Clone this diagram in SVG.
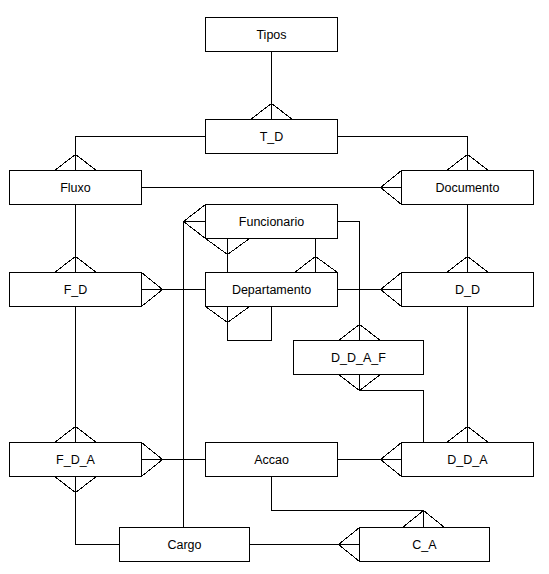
<svg xmlns="http://www.w3.org/2000/svg" width="549" height="574" viewBox="0 0 549 574">
<style>
  .box { fill: #ffffff; stroke: #000000; stroke-width: 1; shape-rendering: crispEdges; }
  .lbl { font-family: "Liberation Sans", Arial, sans-serif; font-size: 12.5px; fill: #000000; text-anchor: middle; }
  .conn path { fill: none; stroke: #000000; stroke-width: 1; shape-rendering: crispEdges; }
</style>
<rect x="0" y="0" width="549" height="574" fill="#ffffff"/>
<g id="connectors" class="conn">
  <path d="M271.5 51.5 V119.5 M250.5 119.5 L271.5 103.5 L292.5 119.5"/>
  <path d="M205.5 136.5 H75.5 V170.5 M54.5 170.5 L75.5 154.5 L96.5 170.5"/>
  <path d="M337.5 136.5 H467.5 V170.5 M446.5 170.5 L467.5 154.5 L488.5 170.5"/>
  <path d="M141.5 187.5 H401.5 M401.5 170.5 L380.5 187.5 L401.5 204.5"/>
  <path d="M75.5 204.5 V272.5 M54.5 272.5 L75.5 256.5 L96.5 272.5"/>
  <path d="M467.5 204.5 V272.5 M446.5 272.5 L467.5 256.5 L488.5 272.5"/>
  <path d="M141.5 289.5 H205.5 M141.5 272.5 L162.5 289.5 L141.5 306.5"/>
  <path d="M337.5 289.5 H401.5 M401.5 272.5 L380.5 289.5 L401.5 306.5"/>
  <path d="M227.5 238.5 V272.5 M205.5 238.5 L227.5 254.5 L249.5 238.5"/>
  <path d="M315.5 238.5 V272.5 M294.5 272.5 L315.5 256.5 L337.5 272.5"/>
  <path d="M227.5 306.5 V340.5 H271.5 V306.5 M205.5 306.5 L227.5 322.5 L249.5 306.5"/>
  <path d="M337.5 221.5 H359.5 V340.5 M338.5 340.5 L359.5 324.5 L380.5 340.5"/>
  <path d="M359.5 374.5 V390.5 H423.5 V442.5 M338.5 374.5 L359.5 390.5 L380.5 374.5"/>
  <path d="M205.5 221.5 H183.5 V527.5 M205.5 204.5 L183.5 221.5 L205.5 238.5"/>
  <path d="M467.5 306.5 V442.5 M446.5 442.5 L467.5 426.5 L488.5 442.5"/>
  <path d="M75.5 306.5 V442.5 M54.5 442.5 L75.5 426.5 L96.5 442.5"/>
  <path d="M141.5 459.5 H205.5 M141.5 442.5 L162.5 459.5 L141.5 476.5"/>
  <path d="M337.5 459.5 H401.5 M401.5 442.5 L380.5 459.5 L401.5 476.5"/>
  <path d="M75.5 476.5 V544.5 H119.5 M54.5 476.5 L75.5 492.5 L96.5 476.5"/>
  <path d="M249.5 544.5 H359.5 M359.5 527.5 L338.5 544.5 L359.5 561.5"/>
  <path d="M271.5 476.5 V510.5 H423.5 V527.5 M402.5 527.5 L423.5 510.5 L444.5 527.5"/>
</g>
<g id="node-tipos"><rect class="box" x="205.5" y="17.5" width="132" height="34"/><text class="lbl" x="271.5" y="39">Tipos</text></g>
<g id="node-t_d"><rect class="box" x="205.5" y="119.5" width="132" height="34"/><text class="lbl" x="271.5" y="141">T_D</text></g>
<g id="node-fluxo"><rect class="box" x="9.5" y="170.5" width="132" height="34"/><text class="lbl" x="75.5" y="192">Fluxo</text></g>
<g id="node-documento"><rect class="box" x="401.5" y="170.5" width="132" height="34"/><text class="lbl" x="467.5" y="192">Documento</text></g>
<g id="node-funcionario"><rect class="box" x="205.5" y="204.5" width="132" height="34"/><text class="lbl" x="271.5" y="226">Funcionario</text></g>
<g id="node-f_d"><rect class="box" x="9.5" y="272.5" width="132" height="34"/><text class="lbl" x="75.5" y="294">F_D</text></g>
<g id="node-departamento"><rect class="box" x="205.5" y="272.5" width="132" height="34"/><text class="lbl" x="271.5" y="294">Departamento</text></g>
<g id="node-d_d"><rect class="box" x="401.5" y="272.5" width="132" height="34"/><text class="lbl" x="467.5" y="294">D_D</text></g>
<g id="node-d_d_a_f"><rect class="box" x="293.5" y="340.5" width="130" height="34"/><text class="lbl" x="358.5" y="362">D_D_A_F</text></g>
<g id="node-f_d_a"><rect class="box" x="9.5" y="442.5" width="132" height="34"/><text class="lbl" x="75.5" y="464">F_D_A</text></g>
<g id="node-accao"><rect class="box" x="205.5" y="442.5" width="132" height="34"/><text class="lbl" x="271.5" y="464">Accao</text></g>
<g id="node-d_d_a"><rect class="box" x="401.5" y="442.5" width="132" height="34"/><text class="lbl" x="467.5" y="464">D_D_A</text></g>
<g id="node-cargo"><rect class="box" x="119.5" y="527.5" width="130" height="34"/><text class="lbl" x="184.5" y="549">Cargo</text></g>
<g id="node-c_a"><rect class="box" x="359.5" y="527.5" width="130" height="34"/><text class="lbl" x="424.5" y="549">C_A</text></g>
</svg>
